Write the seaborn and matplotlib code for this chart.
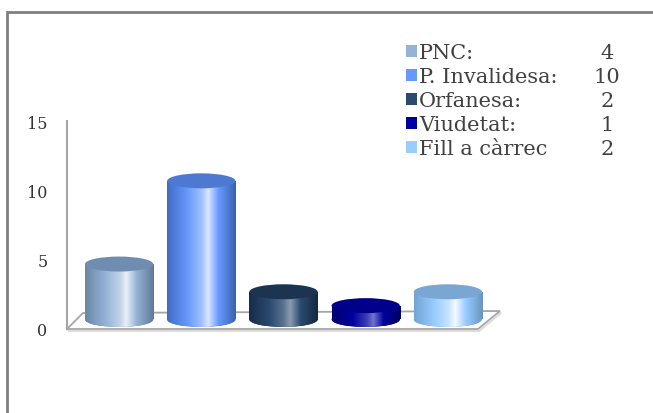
import numpy as np
import pandas as pd
import matplotlib
matplotlib.use("Agg")
import matplotlib.pyplot as plt
import seaborn as sns
from matplotlib.patches import Ellipse, Polygon, Rectangle, Patch
from matplotlib.colors import LinearSegmentedColormap, to_rgb
from matplotlib.transforms import ScaledTranslation

# ---------------------------
# Data
# ---------------------------
categories = ["PNC:", "P. Invalidesa:", "Orfanesa:", "Viudetat:", "Fill a càrrec"]
values = [4, 10, 2, 1, 2]
value_labels = ["4", "10", "2", "1", "2"]
bar_colors = ["#95b3d7", "#6699ff", "#2b4a70", "#0000a0", "#99ccff"]
edge_colors = ["#6b86a6", "#3f6cc4", "#162c48", "#00006e", "#72a4d6"]
top_colors = ["#6f8db0", "#4d7ad0", "#1c3452", "#00008a", "#7aa6d4"]
highlight_mix = [0.8, 0.75, 0.45, 0.45, 0.9]
y_ticks = [0, 5, 10, 15]

W, H, DPI = 653, 414, 100

sns.set_theme(style="white")
plt.rcParams["font.family"] = ["DejaVu Serif", "DejaVu Sans"]

fig = plt.figure(figsize=(W / DPI, H / DPI), dpi=DPI)


def px(x, y):
    """image pixel (top-left origin) -> figure fraction"""
    return (x / W, 1 - y / H)


# front plane of the 3D box: x 67..478 px, y 330 (0) .. 122 (15)
l, b = px(67, 330)
r, t = px(478, 122)
ax = fig.add_axes([l, b, r - l, t - b])
ax.patch.set_visible(False)

df = pd.DataFrame({"cat": categories, "val": values})
sns.barplot(data=df, x="cat", y="val", hue="cat", palette=bar_colors,
            width=0.83, legend=False, ax=ax, saturation=1)

# bars sit half way into the floor depth
offset = ScaledTranslation(11 / DPI, 9.5 / DPI, fig.dpi_scale_trans)
trans = ax.transData + offset
ell_h = 1.08  # ellipse height in data units

bars = [c.patches[0] for c in ax.containers]
for i, bar in enumerate(bars):
    bar.set_transform(trans)
    bar.set_edgecolor("none")
    bar.set_clip_on(False)
    x0, w, h = bar.get_x(), bar.get_width(), bar.get_height()
    cx = x0 + w / 2

    base = np.array(to_rgb(bar_colors[i]))
    edge = np.array(to_rgb(edge_colors[i]))
    hi = base + (1 - base) * highlight_mix[i]
    cmap = LinearSegmentedColormap.from_list(
        f"cyl{i}",
        [(0.0, edge), (0.3, base), (0.5, (base + hi) / 2), (0.6, hi),
         (0.75, base), (1.0, edge * 0.9)])
    grad = np.linspace(0, 1, 256).reshape(1, -1)

    bottom = Ellipse((cx, 0), w, ell_h, transform=trans, facecolor=edge,
                     edgecolor="none", zorder=2, clip_on=False)
    ax.add_patch(bottom)
    for clip in (bar, bottom):
        im = ax.imshow(grad, cmap=cmap, aspect="auto", interpolation="bilinear",
                       extent=[x0, x0 + w, -ell_h, h], zorder=3)
        im.set_transform(trans)
        im.set_clip_box(None)
        im.set_clip_path(clip)

    top = Ellipse((cx, h), w, ell_h, transform=trans, facecolor=top_colors[i],
                  edgecolor="none", zorder=4, clip_on=False)
    ax.add_patch(top)

ax.set_aspect("auto")
ax.set_xlim(-0.5, 4.5)
ax.set_ylim(0, 15)
ax.set_yticks(y_ticks)
ax.set_yticklabels([str(v) for v in y_ticks])
ax.tick_params(axis="y", length=0, pad=14, labelsize=11.5, labelcolor="#333333")
ax.set_xticks([])
ax.set_xlabel("")
ax.set_ylabel("")
for side in ["top", "right", "bottom"]:
    ax.spines[side].set_visible(False)
ax.spines["left"].set_color("#a6a6a6")
ax.spines["left"].set_linewidth(1.5)

# floor of the 3D box
floor = Polygon([px(67, 330), px(478, 330), px(500, 312), px(83, 314)],
                closed=True, transform=fig.transFigure, facecolor="white",
                edgecolor="#a6a6a6", linewidth=1.3, zorder=-1)
shadow = Polygon([px(68, 332), px(479, 332), px(501, 314), px(84, 316)],
                 closed=True, transform=fig.transFigure, facecolor="none",
                 edgecolor="#dddddd", linewidth=1.5, zorder=-2)
fig.add_artist(shadow)
fig.add_artist(floor)

# chart border
bx, by = px(7, 13)
border = Rectangle((bx, -0.1), 1.2, by + 0.1, transform=fig.transFigure,
                   facecolor="none", edgecolor="#7f7f7f", linewidth=2, zorder=5)
fig.add_artist(border)

# legend with values
handles = [Patch(facecolor=c, edgecolor="none") for c in bar_colors]
leg = ax.legend(handles, categories, loc="upper left",
                bbox_to_anchor=px(396, 34), bbox_transform=fig.transFigure,
                frameon=False, fontsize=15, handlelength=0.5, handleheight=0.5,
                handletextpad=0.12, labelspacing=0.24, borderpad=0)
for txt in leg.get_texts():
    txt.set_color("#404040")

# place the counts next to each legend row once the legend is laid out
fig.canvas.draw()
for txt, val in zip(leg.get_texts(), value_labels):
    bb = txt.get_window_extent()
    yc = (bb.y0 + bb.y1) / 2
    fig.text(607 / W, yc / fig.bbox.height, val, ha="center", va="center",
             fontsize=15, color="#404040")

fig.savefig("out.png", dpi=DPI)
